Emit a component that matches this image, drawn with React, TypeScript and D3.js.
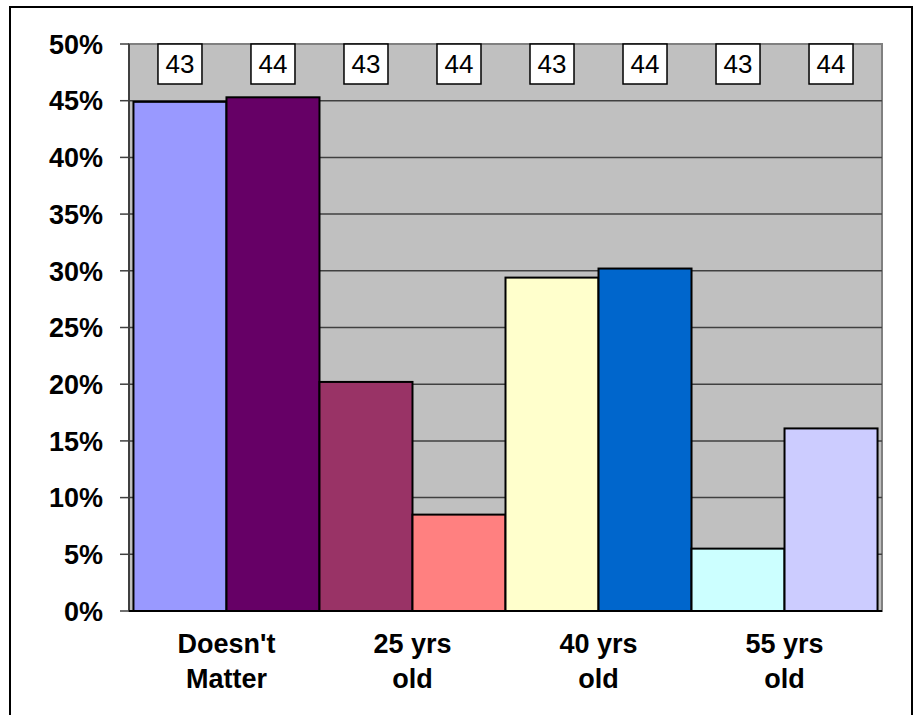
import * as d3 from 'd3';
import React, { useRef, useEffect } from 'react';

const categories = ["Doesn't|Matter", '25 yrs|old', '40 yrs|old', '55 yrs|old'];
const seriesNames = ['43', '44'];
const series43 = [0.449, 0.202, 0.294, 0.055];
const series44 = [0.453, 0.085, 0.302, 0.161];
const barColors = [
    ['#9999FF', '#660066'],
    ['#993366', '#FF8080'],
    ['#FFFFCC', '#0066CC'],
    ['#CCFFFF', '#CCCCFF'],
];
const yTicks = [0, 0.05, 0.1, 0.15, 0.2, 0.25, 0.3, 0.35, 0.4, 0.45, 0.5];

const W = 917;
const H = 715;
const FONT = 'Liberation Sans, Arial, sans-serif';

export default function App() {
    const ref = useRef<SVGSVGElement | null>(null);

    useEffect(() => {
        const svg = d3.select(ref.current);
        svg.selectAll('*').remove();

        const left = 129, right = 882, top = 44, bottom = 611;

        // outer frame
        svg.append('rect')
            .attr('x', 10).attr('y', 7)
            .attr('width', 902).attr('height', 730)
            .attr('fill', 'white')
            .attr('stroke', 'black')
            .attr('stroke-width', 2);

        const y = d3.scaleLinear().domain([0, 0.5]).range([bottom, top]);
        const x0 = d3.scaleBand<string>()
            .domain(categories)
            .range([left, right])
            .paddingInner(0)
            .paddingOuter(0.024);
        const x1 = d3.scaleBand<string>()
            .domain(seriesNames)
            .range([0, x0.bandwidth()])
            .padding(0);

        // plot background
        svg.append('rect')
            .attr('x', left).attr('y', top)
            .attr('width', right - left).attr('height', bottom - top)
            .attr('fill', '#C0C0C0')
            .attr('stroke', '#808080')
            .attr('stroke-width', 2);

        // gridlines
        svg.append('g')
            .selectAll('line')
            .data(yTicks.slice(1, -1))
            .join('line')
            .attr('x1', left).attr('x2', right)
            .attr('y1', d => y(d)).attr('y2', d => y(d))
            .attr('stroke', '#404040')
            .attr('stroke-width', 1.5);

        // y axis
        const yAxis = svg.append('g');
        yAxis.append('line')
            .attr('x1', left).attr('x2', left)
            .attr('y1', top).attr('y2', bottom)
            .attr('stroke', '#404040').attr('stroke-width', 2);
        yAxis.selectAll('line.tick')
            .data(yTicks)
            .join('line')
            .attr('class', 'tick')
            .attr('x1', left - 9).attr('x2', left)
            .attr('y1', d => y(d)).attr('y2', d => y(d))
            .attr('stroke', '#404040').attr('stroke-width', 1.5);
        yAxis.selectAll('text')
            .data(yTicks)
            .join('text')
            .attr('x', 103)
            .attr('y', d => y(d))
            .attr('dy', '0.36em')
            .attr('text-anchor', 'end')
            .style('font-family', FONT)
            .style('font-weight', 'bold')
            .style('font-size', '27px')
            .text(d => `${Math.round(d * 100)}%`);

        // bars
        const rows = categories.flatMap((c, i) => [
            { cat: c, s: seriesNames[0], v: series43[i], color: barColors[i][0] },
            { cat: c, s: seriesNames[1], v: series44[i], color: barColors[i][1] },
        ]);

        svg.append('g')
            .selectAll('rect')
            .data(rows)
            .join('rect')
            .attr('x', d => (x0(d.cat) as number) + (x1(d.s) as number))
            .attr('y', d => y(d.v))
            .attr('width', x1.bandwidth())
            .attr('height', d => bottom - y(d.v))
            .attr('fill', d => d.color)
            .attr('stroke', 'black')
            .attr('stroke-width', 2);

        // x axis line
        svg.append('line')
            .attr('x1', left).attr('x2', right)
            .attr('y1', bottom).attr('y2', bottom)
            .attr('stroke', 'black').attr('stroke-width', 2);

        // n labels on top
        const lbl = svg.append('g')
            .selectAll('g')
            .data(rows)
            .join('g')
            .attr('transform', d => `translate(${(x0(d.cat) as number) + (x1(d.s) as number) + x1.bandwidth() / 2}, ${top})`);
        lbl.append('rect')
            .attr('x', -22).attr('y', 0)
            .attr('width', 44).attr('height', 40)
            .attr('fill', 'white')
            .attr('stroke', 'black')
            .attr('stroke-width', 1.5);
        lbl.append('text')
            .attr('x', 0).attr('y', 28.5)
            .attr('text-anchor', 'middle')
            .style('font-family', FONT)
            .style('font-size', '26px')
            .text(d => d.s);

        // category labels
        const cl = svg.append('g')
            .selectAll('text')
            .data(categories)
            .join('text')
            .attr('x', d => (x0(d) as number) + x0.bandwidth() / 2)
            .attr('y', 653)
            .attr('text-anchor', 'middle')
            .style('font-family', FONT)
            .style('font-weight', 'bold')
            .style('font-size', '27px');
        cl.selectAll('tspan')
            .data(d => d.split('|'))
            .join('tspan')
            .attr('x', function () {
                return (this as SVGTSpanElement).parentElement!.getAttribute('x');
            })
            .attr('dy', (_d, i) => (i === 0 ? 0 : 35))
            .text(d => d);
    }, []);

    return (
        <svg
            ref={ref}
            width={W}
            height={H}
            style={{ position: 'absolute', left: 0, top: 0, background: 'white' }}
        />
    );
}
